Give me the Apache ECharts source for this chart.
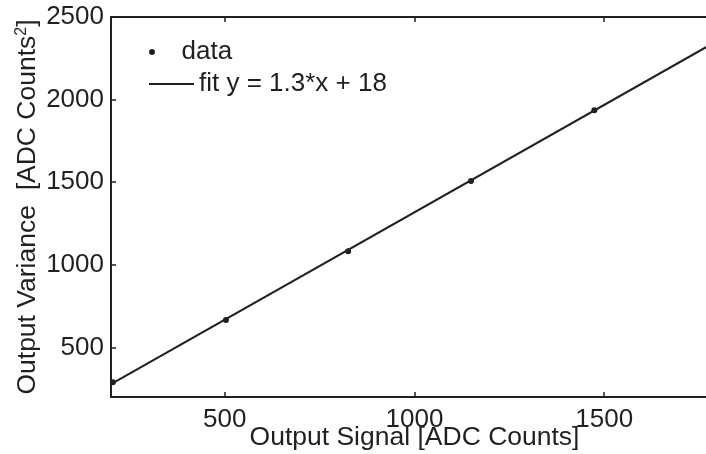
<!DOCTYPE html>
<html>
<head>
<meta charset="utf-8">
<script src="https://cdn.jsdelivr.net/npm/echarts@6/dist/echarts.min.js"></script>
<style>html,body{margin:0;padding:0;background:#fff}#c{width:706px;height:454px}</style>
</head>
<body>
<div id="c"></div>
<script>
const dataX = [205, 503, 825, 1149, 1474];
const dataY = [290, 666, 1082, 1507, 1935];
const fitX = [200, 1800];
const fitY = [278, 2358];
const xTicks = [500, 1000, 1500];
const yTicks = [500, 1000, 1500, 2000, 2500];
const xRange = [200, 1800];
const yRange = [200, 2500];
const legendNames = ['data', 'fit y = 1.3*x + 18'];

const ink = '#231f20';
const font = "'Liberation Sans', Arial, sans-serif";
const fs = 26;
const chart = echarts.init(document.getElementById('c'));
const plain = v => String(v);

function axisCommon(extra) {
  return Object.assign({
    type: 'value',
    splitLine: { show: false },
    axisLine: { show: true, onZero: false, lineStyle: { color: ink, width: 2 } },
    axisTick: { show: true, inside: true, length: 5, lineStyle: { color: ink, width: 1.5 } },
    axisLabel: { color: ink, fontFamily: font, fontSize: fs }
  }, extra);
}

chart.setOption({
  animation: false,
  backgroundColor: '#fff',
  grid: { left: 111, width: 607, top: 17, height: 380, containLabel: false, outerBoundsMode: 'none' },
  legend: [
    {
      data: [{ name: legendNames[0], icon: 'circle', itemStyle: { color: ink, opacity: 1 } }],
      left: 144, top: 34, itemWidth: 45, itemHeight: 6, itemGap: 0,
      textStyle: { color: ink, fontFamily: font, fontSize: fs, padding: [0, 0, 0, 2] }
    },
    {
      data: [{ name: legendNames[1], icon: 'rect', itemStyle: { color: ink } }],
      left: 144, top: 66, itemWidth: 45, itemHeight: 2, itemGap: 0,
      textStyle: { color: ink, fontFamily: font, fontSize: fs }
    }
  ],
  xAxis: [
    axisCommon({
      min: xRange[0], max: xRange[1], position: 'bottom',
      axisTick: { show: true, inside: true, length: 5, customValues: xTicks, lineStyle: { color: ink, width: 1.5 } },
      axisLabel: { color: ink, fontFamily: font, fontSize: fs, margin: 10, customValues: xTicks, formatter: plain },
      name: 'Output Signal [ADC Counts]', nameLocation: 'middle', nameGap: 27, nameMoveOverlap: false,
      nameTextStyle: { color: ink, fontFamily: font, fontSize: 26.5 }
    }),
    axisCommon({
      min: xRange[0], max: xRange[1], position: 'top',
      axisTick: { show: true, inside: true, length: 5, customValues: xTicks, lineStyle: { color: ink, width: 1.5 } },
      axisLabel: { show: false }
    })
  ],
  yAxis: [
    axisCommon({
      min: yRange[0], max: yRange[1], position: 'left',
      axisTick: { show: true, inside: true, length: 5, customValues: yTicks, lineStyle: { color: ink, width: 1.5 } },
      axisLabel: { color: ink, fontFamily: font, fontSize: fs, margin: 7, customValues: yTicks, formatter: plain },
      name: '{t|Output Variance  [ADC Counts}{s|2}{t|]}', nameLocation: 'middle', nameGap: 70, nameRotate: 90,
      nameMoveOverlap: false,
      nameTextStyle: {
        color: ink, fontFamily: font, fontSize: 26.5,
        rich: {
          t: { color: ink, fontFamily: font, fontSize: 26.5 },
          s: { color: ink, fontFamily: font, fontSize: 16, verticalAlign: 'top', padding: [0, 0, 10, 0] }
        }
      }
    }),
    axisCommon({
      min: yRange[0], max: yRange[1], position: 'right',
      axisTick: { show: true, inside: true, length: 5, customValues: yTicks, lineStyle: { color: ink, width: 1.5 } },
      axisLabel: { show: false }
    })
  ],
  series: [
    {
      name: legendNames[0], type: 'scatter', xAxisIndex: 0, yAxisIndex: 0,
      symbol: 'circle', symbolSize: 6, itemStyle: { color: ink, opacity: 1 },
      data: dataX.map((x, i) => [x, dataY[i]]), z: 3
    },
    {
      name: legendNames[1], type: 'line', xAxisIndex: 0, yAxisIndex: 0,
      symbol: 'none', lineStyle: { color: ink, width: 2 }, itemStyle: { color: ink },
      data: fitX.map((x, i) => [x, fitY[i]]), z: 2
    }
  ]
});
</script>
</body>
</html>
